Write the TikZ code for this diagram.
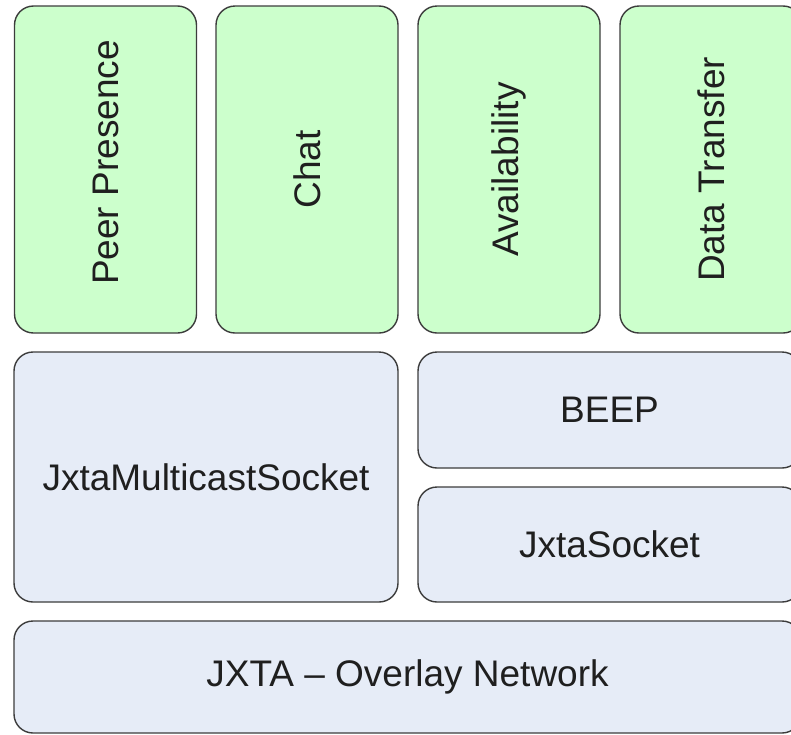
\documentclass[tikz,border=0pt]{standalone}
\usepackage{fontspec}
\setmainfont{Liberation Sans}
\definecolor{greenfill}{HTML}{CCFFCC}
\definecolor{bluefill}{HTML}{E6ECF7}
\definecolor{edgegray}{HTML}{3C3C3C}
\begin{document}
\begin{tikzpicture}[x=1pt,y=-1pt,
  layerbox/.style={draw=edgegray, line width=1.4pt, rounded corners=19pt,
    rectangle, inner sep=0pt, align=center,
    font=\fontsize{37}{41}\selectfont, text=black!88},
  appbox/.style={layerbox, fill=greenfill, rotate=90,
    minimum width=327pt, minimum height=182pt},
  netbox/.style={layerbox, fill=bluefill}]
\useasboundingbox (0,0) rectangle (791,734);
\clip (0,0) rectangle (791,734);
\fill[white] (0,0) rectangle (791,734);
% application layer
\node[appbox] (pp) at (105.5,169.5) {\hspace*{14pt}Peer Presence};
\node[appbox] (chat) at (307,169.5) {Chat};
\node[appbox] (avail) at (509,169.5) {Availability};
\node[appbox] (data) at (711,169.5) {Data Transfer};
% transport layer
\node[netbox, minimum width=384pt, minimum height=250pt] (mcs) at (206,477) {JxtaMulticastSocket};
\node[netbox, minimum width=383pt, minimum height=116pt] (beep) at (609.5,410) {BEEP};
\node[netbox, minimum width=383pt, minimum height=115pt] (js) at (609.5,544.5) {JxtaSocket};
% overlay
\node[netbox, minimum width=787pt, minimum height=112pt] (jxta) at (407.5,677) {JXTA – Overlay Network};
\end{tikzpicture}
\end{document}
